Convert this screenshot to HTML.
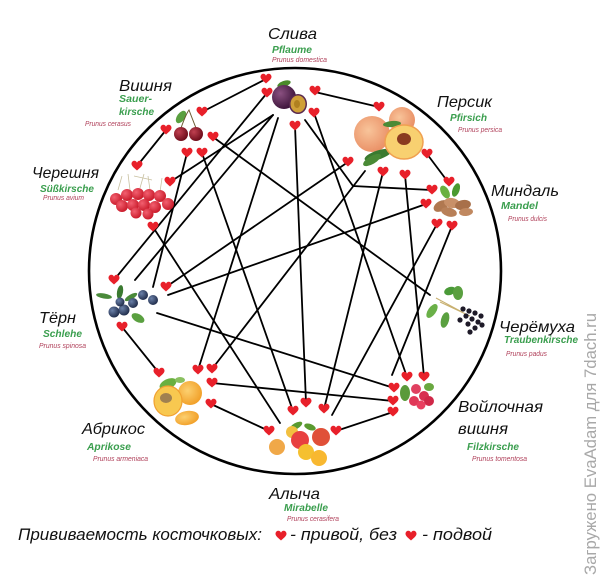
<!DOCTYPE html>
<html><head><meta charset="utf-8">
<style>
html,body{margin:0;padding:0;background:#fff;}
svg{display:block;}
.ru{font-family:"Liberation Sans","DejaVu Sans",sans-serif;font-style:italic;font-size:16px;fill:#111;}
.de{font-family:"Liberation Sans","DejaVu Sans",sans-serif;font-style:italic;font-weight:bold;font-size:10.5px;fill:#3a9e4e;}
.la{font-family:"Liberation Sans Narrow","Liberation Sans",sans-serif;font-style:italic;font-size:7px;fill:#b0405a;}
.lg{font-family:"Liberation Sans","DejaVu Sans",sans-serif;font-style:italic;font-size:17px;fill:#111;}
</style></head>
<body>
<svg width="600" height="581" viewBox="0 0 600 581" xmlns="http://www.w3.org/2000/svg">
<defs>
<path id="h" d="M0,4.5 C-2,2.6 -5.5,0.4 -5.5,-2.2 C-5.5,-4.4 -3.8,-5.3 -2.6,-5.3 C-1.3,-5.3 -0.3,-4.4 0,-3.3 C0.3,-4.4 1.3,-5.3 2.6,-5.3 C3.8,-5.3 5.5,-4.4 5.5,-2.2 C5.5,0.4 2,2.6 0,4.5 Z" fill="#e8202a"/>
<radialGradient id="gPlum" cx="0.35" cy="0.35" r="0.7"><stop offset="0" stop-color="#8a5080"/><stop offset="1" stop-color="#3a1238"/></radialGradient>
<radialGradient id="gCher" cx="0.35" cy="0.35" r="0.7"><stop offset="0" stop-color="#c04050"/><stop offset="1" stop-color="#6a0a18"/></radialGradient>
<radialGradient id="gRed" cx="0.35" cy="0.35" r="0.7"><stop offset="0" stop-color="#f26070"/><stop offset="1" stop-color="#c81828"/></radialGradient>
<radialGradient id="gPeach" cx="0.4" cy="0.4" r="0.7"><stop offset="0" stop-color="#f8c49a"/><stop offset="1" stop-color="#e88a60"/></radialGradient>
<radialGradient id="gApr" cx="0.4" cy="0.4" r="0.7"><stop offset="0" stop-color="#fcd070"/><stop offset="1" stop-color="#f09a20"/></radialGradient>
<radialGradient id="gSloe" cx="0.35" cy="0.35" r="0.7"><stop offset="0" stop-color="#6a80a8"/><stop offset="1" stop-color="#1e2a48"/></radialGradient>
</defs>

<!-- big circle -->
<ellipse cx="295" cy="271" rx="206" ry="203" fill="none" stroke="#000" stroke-width="2.6"/>

<!-- connectors -->
<g stroke="#000" stroke-width="1.8" fill="none" stroke-linecap="round">
<line x1="266" y1="79" x2="202" y2="112"/>
<line x1="166" y1="130" x2="137" y2="166"/>
<line x1="213" y1="137" x2="430" y2="295"/>
<line x1="187" y1="153" x2="153" y2="287"/>
<line x1="202" y1="153" x2="293" y2="411"/>
<line x1="170" y1="182" x2="273" y2="115"/>
<line x1="153" y1="227" x2="280" y2="423"/>
<line x1="114" y1="280" x2="267" y2="93"/>
<line x1="135" y1="280" x2="273" y2="115"/>
<line x1="166" y1="287" x2="348" y2="162"/>
<line x1="168" y1="295" x2="426" y2="204"/>
<line x1="157" y1="313" x2="394" y2="388"/>
<line x1="122" y1="327" x2="159" y2="373"/>
<line x1="198" y1="370" x2="278" y2="118"/>
<line x1="212" y1="369" x2="365" y2="171"/>
<line x1="212" y1="383" x2="393" y2="401"/>
<line x1="211" y1="404" x2="269" y2="431"/>
<line x1="295" y1="126" x2="306" y2="403"/>
<line x1="314" y1="113" x2="407" y2="377"/>
<polyline points="305,120 353,186 431,190"/>
<line x1="315" y1="92" x2="379" y2="107"/>
<line x1="427" y1="154" x2="448" y2="182"/>
<line x1="383" y1="172" x2="324" y2="409"/>
<line x1="405" y1="175" x2="424" y2="377"/>
<line x1="437" y1="224" x2="332" y2="415"/>
<line x1="452" y1="226" x2="392" y2="375"/>
<line x1="336" y1="431" x2="393" y2="412"/>
</g>

<!-- fruits -->
<!-- plum -->
<g>
<ellipse cx="284" cy="84" rx="7" ry="3" fill="#4a8a2a" transform="rotate(-20 284 84)"/>
<circle cx="284" cy="97" r="12" fill="url(#gPlum)"/>
<ellipse cx="298" cy="104" rx="9" ry="10" fill="#5a2a50"/>
<ellipse cx="298" cy="104" rx="7.5" ry="8.5" fill="#d0a038"/>
<ellipse cx="297" cy="104" rx="3" ry="4" fill="#b08020"/>
</g>
<!-- cherry -->
<g>
<ellipse cx="181" cy="117" rx="4" ry="7" fill="#5aa040" transform="rotate(35 181 117)"/>
<path d="M181,128 Q186,114 189,110 Q192,118 196,128" stroke="#6a5a30" stroke-width="1" fill="none"/>
<circle cx="181" cy="134" r="7" fill="url(#gCher)"/>
<circle cx="196" cy="134" r="7" fill="url(#gCher)"/>
</g>
<!-- sweet cherry -->
<g>
<path d="M118,190 L122,176 M130,190 L128,174 M140,188 L144,174 M150,190 L148,176 M160,192 L162,178 M134,176 L152,180" stroke="#c8c0a0" stroke-width="0.8" fill="none"/>
<circle cx="116" cy="199" r="6" fill="url(#gRed)"/>
<circle cx="127" cy="195" r="6" fill="url(#gRed)"/>
<circle cx="138" cy="194" r="6" fill="url(#gRed)"/>
<circle cx="149" cy="195" r="6" fill="url(#gRed)"/>
<circle cx="160" cy="196" r="6" fill="url(#gRed)"/>
<circle cx="168" cy="204" r="6" fill="url(#gRed)"/>
<circle cx="122" cy="206" r="6" fill="url(#gRed)"/>
<circle cx="133" cy="205" r="6" fill="url(#gRed)"/>
<circle cx="144" cy="205" r="6" fill="url(#gRed)"/>
<circle cx="155" cy="207" r="6" fill="url(#gRed)"/>
<circle cx="136" cy="213" r="5.5" fill="url(#gRed)"/>
<circle cx="148" cy="214" r="5.5" fill="url(#gRed)"/>
</g>
<!-- peach -->
<g>
<circle cx="402" cy="120" r="13" fill="url(#gPeach)"/>
<circle cx="372" cy="134" r="18" fill="url(#gPeach)"/>
<ellipse cx="378" cy="155" rx="14" ry="4.5" fill="#3a7a30" transform="rotate(-18 378 155)"/>
<ellipse cx="372" cy="160" rx="10" ry="4" fill="#4a8a36" transform="rotate(-30 372 160)"/>
<ellipse cx="392" cy="124" rx="9" ry="3" fill="#4a8a36" transform="rotate(-5 392 124)"/>
<ellipse cx="404" cy="142" rx="19" ry="17" fill="#f8d070"/>
<ellipse cx="404" cy="142" rx="19" ry="17" fill="none" stroke="#f0a050" stroke-width="1.5"/>
<ellipse cx="404" cy="139" rx="7" ry="6" fill="#8a3a20"/>
</g>
<!-- almond -->
<g>
<ellipse cx="445" cy="192" rx="4" ry="7" fill="#6ab040" transform="rotate(-30 445 192)"/>
<ellipse cx="456" cy="190" rx="3.5" ry="7" fill="#4a9a30" transform="rotate(20 456 190)"/>
<ellipse cx="441" cy="206" rx="8" ry="5" fill="#b07850" transform="rotate(-30 441 206)"/>
<ellipse cx="452" cy="203" rx="8" ry="5" fill="#c89068" transform="rotate(10 452 203)"/>
<ellipse cx="463" cy="205" rx="8" ry="5" fill="#a8704a" transform="rotate(-10 463 205)"/>
<ellipse cx="449" cy="212" rx="8" ry="4.5" fill="#b88058" transform="rotate(15 449 212)"/>
<ellipse cx="466" cy="212" rx="7" ry="4" fill="#c08860" transform="rotate(-5 466 212)"/>
</g>
<!-- sloe -->
<g>
<ellipse cx="104" cy="296" rx="8" ry="2.5" fill="#4a8a3a" transform="rotate(10 104 296)"/>
<ellipse cx="120" cy="292" rx="3" ry="7" fill="#3a7a30" transform="rotate(10 120 292)"/>
<ellipse cx="131" cy="297" rx="7" ry="2.5" fill="#4a8a3a" transform="rotate(-30 131 297)"/>
<ellipse cx="138" cy="318" rx="7" ry="4" fill="#5aa040" transform="rotate(30 138 318)"/>
<circle cx="143" cy="295" r="5" fill="url(#gSloe)"/>
<circle cx="153" cy="300" r="5" fill="url(#gSloe)"/>
<circle cx="133" cy="303" r="5" fill="url(#gSloe)"/>
<circle cx="124" cy="310" r="5.5" fill="url(#gSloe)"/>
<circle cx="114" cy="312" r="5.5" fill="url(#gSloe)"/>
<circle cx="120" cy="302" r="4.5" fill="url(#gSloe)"/>
</g>
<!-- bird cherry -->
<g>
<path d="M436,298 L462,312 M440,302 L470,316" stroke="#c8b070" stroke-width="1" fill="none"/>
<ellipse cx="450" cy="291" rx="6" ry="4" fill="#4a9a38" transform="rotate(-20 450 291)"/>
<ellipse cx="458" cy="293" rx="5" ry="7" fill="#5aa040"/>
<ellipse cx="432" cy="311" rx="4" ry="8" fill="#6ab048" transform="rotate(35 432 311)"/>
<ellipse cx="445" cy="320" rx="4" ry="8" fill="#5aa040" transform="rotate(15 445 320)"/>
<g fill="#1e1a28">
<circle cx="463" cy="309" r="2.6"/><circle cx="469" cy="311" r="2.6"/><circle cx="475" cy="313" r="2.6"/><circle cx="481" cy="316" r="2.6"/>
<circle cx="466" cy="316" r="2.6"/><circle cx="472" cy="319" r="2.6"/><circle cx="478" cy="322" r="2.6"/><circle cx="460" cy="320" r="2.6"/>
<circle cx="468" cy="324" r="2.6"/><circle cx="475" cy="328" r="2.6"/><circle cx="470" cy="332" r="2.6"/><circle cx="482" cy="325" r="2.6"/>
</g>
</g>
<!-- apricot -->
<g>
<ellipse cx="168" cy="384" rx="9" ry="5" fill="#6ab040" transform="rotate(-25 168 384)"/>
<ellipse cx="180" cy="380" rx="5" ry="3" fill="#8ac060"/>
<circle cx="190" cy="393" r="12" fill="url(#gApr)"/>
<ellipse cx="168" cy="401" rx="14" ry="15" fill="#f8c850"/>
<ellipse cx="168" cy="401" rx="14" ry="15" fill="none" stroke="#f0a030" stroke-width="1.2"/>
<ellipse cx="166" cy="398" rx="6" ry="5" fill="#a08050"/>
<ellipse cx="187" cy="418" rx="12" ry="7" fill="url(#gApr)" transform="rotate(-10 187 418)"/>
</g>
<!-- cherry plum -->
<g>
<ellipse cx="296" cy="426" rx="7" ry="3" fill="#5a9a30" transform="rotate(-30 296 426)"/>
<ellipse cx="310" cy="427" rx="6" ry="3" fill="#5a9a30" transform="rotate(20 310 427)"/>
<circle cx="292" cy="432" r="6" fill="#f2c040"/>
<circle cx="277" cy="447" r="8" fill="#f0a848"/>
<circle cx="300" cy="440" r="9" fill="#e84040"/>
<circle cx="321" cy="437" r="9" fill="#e05038"/>
<circle cx="306" cy="452" r="8" fill="#f5c030"/>
<circle cx="319" cy="458" r="8" fill="#f8b830"/>
</g>
<!-- felt cherry -->
<g>
<ellipse cx="405" cy="393" rx="5" ry="8" fill="#5a9a3a"/>
<ellipse cx="429" cy="387" rx="5" ry="4" fill="#6aa840"/>
<circle cx="416" cy="389" r="5" fill="#e04060"/>
<circle cx="424" cy="396" r="5" fill="#d83050"/>
<circle cx="414" cy="401" r="5" fill="#e03858"/>
<circle cx="429" cy="401" r="5" fill="#d02848"/>
<circle cx="421" cy="405" r="4.5" fill="#e84060"/>
</g>

<!-- hearts -->
<g>
<use href="#h" x="266" y="79"/><use href="#h" x="267" y="93"/><use href="#h" x="315" y="91"/><use href="#h" x="314" y="113"/><use href="#h" x="295" y="126"/>
<use href="#h" x="202" y="112"/><use href="#h" x="166" y="130"/><use href="#h" x="213" y="137"/><use href="#h" x="187" y="153"/><use href="#h" x="202" y="153"/>
<use href="#h" x="137" y="166"/><use href="#h" x="170" y="182"/><use href="#h" x="153" y="227"/>
<use href="#h" x="379" y="107"/><use href="#h" x="348" y="162"/><use href="#h" x="383" y="172"/><use href="#h" x="405" y="175"/><use href="#h" x="427" y="154"/>
<use href="#h" x="449" y="182"/><use href="#h" x="432" y="190"/><use href="#h" x="426" y="204"/><use href="#h" x="437" y="224"/><use href="#h" x="452" y="226"/>
<use href="#h" x="114" y="280"/><use href="#h" x="166" y="287"/><use href="#h" x="122" y="327"/>
<use href="#h" x="159" y="373"/><use href="#h" x="198" y="370"/><use href="#h" x="212" y="369"/><use href="#h" x="212" y="383"/><use href="#h" x="211" y="404"/>
<use href="#h" x="293" y="411"/><use href="#h" x="306" y="403"/><use href="#h" x="324" y="409"/><use href="#h" x="269" y="431"/><use href="#h" x="336" y="431"/>
<use href="#h" x="407" y="377"/><use href="#h" x="424" y="377"/><use href="#h" x="394" y="388"/><use href="#h" x="393" y="401"/><use href="#h" x="393" y="412"/>
<use href="#h" x="281" y="536"/><use href="#h" x="411" y="536"/>
</g>

<!-- labels -->
<text class="ru" x="268" y="39" textLength="49" lengthAdjust="spacingAndGlyphs">Слива</text>
<text class="de" x="272" y="53" textLength="40" lengthAdjust="spacingAndGlyphs">Pflaume</text>
<text class="la" x="272" y="62" textLength="55" lengthAdjust="spacingAndGlyphs">Prunus domestica</text>

<text class="ru" x="119" y="91" textLength="53" lengthAdjust="spacingAndGlyphs">Вишня</text>
<text class="de" x="119" y="102" textLength="33" lengthAdjust="spacingAndGlyphs">Sauer-</text>
<text class="de" x="119" y="115" textLength="35" lengthAdjust="spacingAndGlyphs">kirsche</text>
<text class="la" x="85" y="126" textLength="46" lengthAdjust="spacingAndGlyphs">Prunus cerasus</text>

<text class="ru" x="32" y="178" textLength="67" lengthAdjust="spacingAndGlyphs">Черешня</text>
<text class="de" x="40" y="192" textLength="54" lengthAdjust="spacingAndGlyphs">Süßkirsche</text>
<text class="la" x="43" y="200" textLength="41" lengthAdjust="spacingAndGlyphs">Prunus avium</text>

<text class="ru" x="437" y="107" textLength="55" lengthAdjust="spacingAndGlyphs">Персик</text>
<text class="de" x="450" y="121" textLength="37" lengthAdjust="spacingAndGlyphs">Pfirsich</text>
<text class="la" x="458" y="132" textLength="44" lengthAdjust="spacingAndGlyphs">Prunus persica</text>

<text class="ru" x="491" y="196" textLength="68" lengthAdjust="spacingAndGlyphs">Миндаль</text>
<text class="de" x="501" y="209" textLength="37" lengthAdjust="spacingAndGlyphs">Mandel</text>
<text class="la" x="508" y="221" textLength="39" lengthAdjust="spacingAndGlyphs">Prunus dulcis</text>

<text class="ru" x="39" y="323" textLength="37" lengthAdjust="spacingAndGlyphs">Тёрн</text>
<text class="de" x="43" y="337" textLength="39" lengthAdjust="spacingAndGlyphs">Schlehe</text>
<text class="la" x="39" y="348" textLength="47" lengthAdjust="spacingAndGlyphs">Prunus spinosa</text>

<text class="ru" x="499" y="332" textLength="76" lengthAdjust="spacingAndGlyphs">Черёмуха</text>
<text class="de" x="504" y="343" textLength="74" lengthAdjust="spacingAndGlyphs">Traubenkirsche</text>
<text class="la" x="506" y="356" textLength="41" lengthAdjust="spacingAndGlyphs">Prunus padus</text>

<text class="ru" x="82" y="434" textLength="63" lengthAdjust="spacingAndGlyphs">Абрикос</text>
<text class="de" x="87" y="450" textLength="44" lengthAdjust="spacingAndGlyphs">Aprikose</text>
<text class="la" x="93" y="461" textLength="55" lengthAdjust="spacingAndGlyphs">Prunus armeniaca</text>

<text class="ru" x="458" y="412" textLength="85" lengthAdjust="spacingAndGlyphs">Войлочная</text>
<text class="ru" x="458" y="434" textLength="50" lengthAdjust="spacingAndGlyphs">вишня</text>
<text class="de" x="467" y="450" textLength="52" lengthAdjust="spacingAndGlyphs">Filzkirsche</text>
<text class="la" x="472" y="461" textLength="55" lengthAdjust="spacingAndGlyphs">Prunus tomentosa</text>

<text class="ru" x="269" y="499" textLength="51" lengthAdjust="spacingAndGlyphs">Алыча</text>
<text class="de" x="284" y="511" textLength="44" lengthAdjust="spacingAndGlyphs">Mirabelle</text>
<text class="la" x="287" y="521" textLength="52" lengthAdjust="spacingAndGlyphs">Prunus cerasifera</text>

<!-- legend -->
<text class="lg" x="18" y="540" textLength="244" lengthAdjust="spacingAndGlyphs">Прививаемость косточковых:</text>
<text class="lg" x="290" y="540" textLength="107" lengthAdjust="spacingAndGlyphs">- привой, без</text>
<text class="lg" x="422" y="540" textLength="70" lengthAdjust="spacingAndGlyphs">- подвой</text>

<!-- watermark -->
<text transform="translate(596,575) rotate(-90)" x="0" y="0" font-family="Liberation Sans, DejaVu Sans, sans-serif" font-size="17" fill="#a8a8a8" textLength="262" lengthAdjust="spacingAndGlyphs">Загружено EvaAdam для 7dach.ru</text>
</svg>
</body></html>
